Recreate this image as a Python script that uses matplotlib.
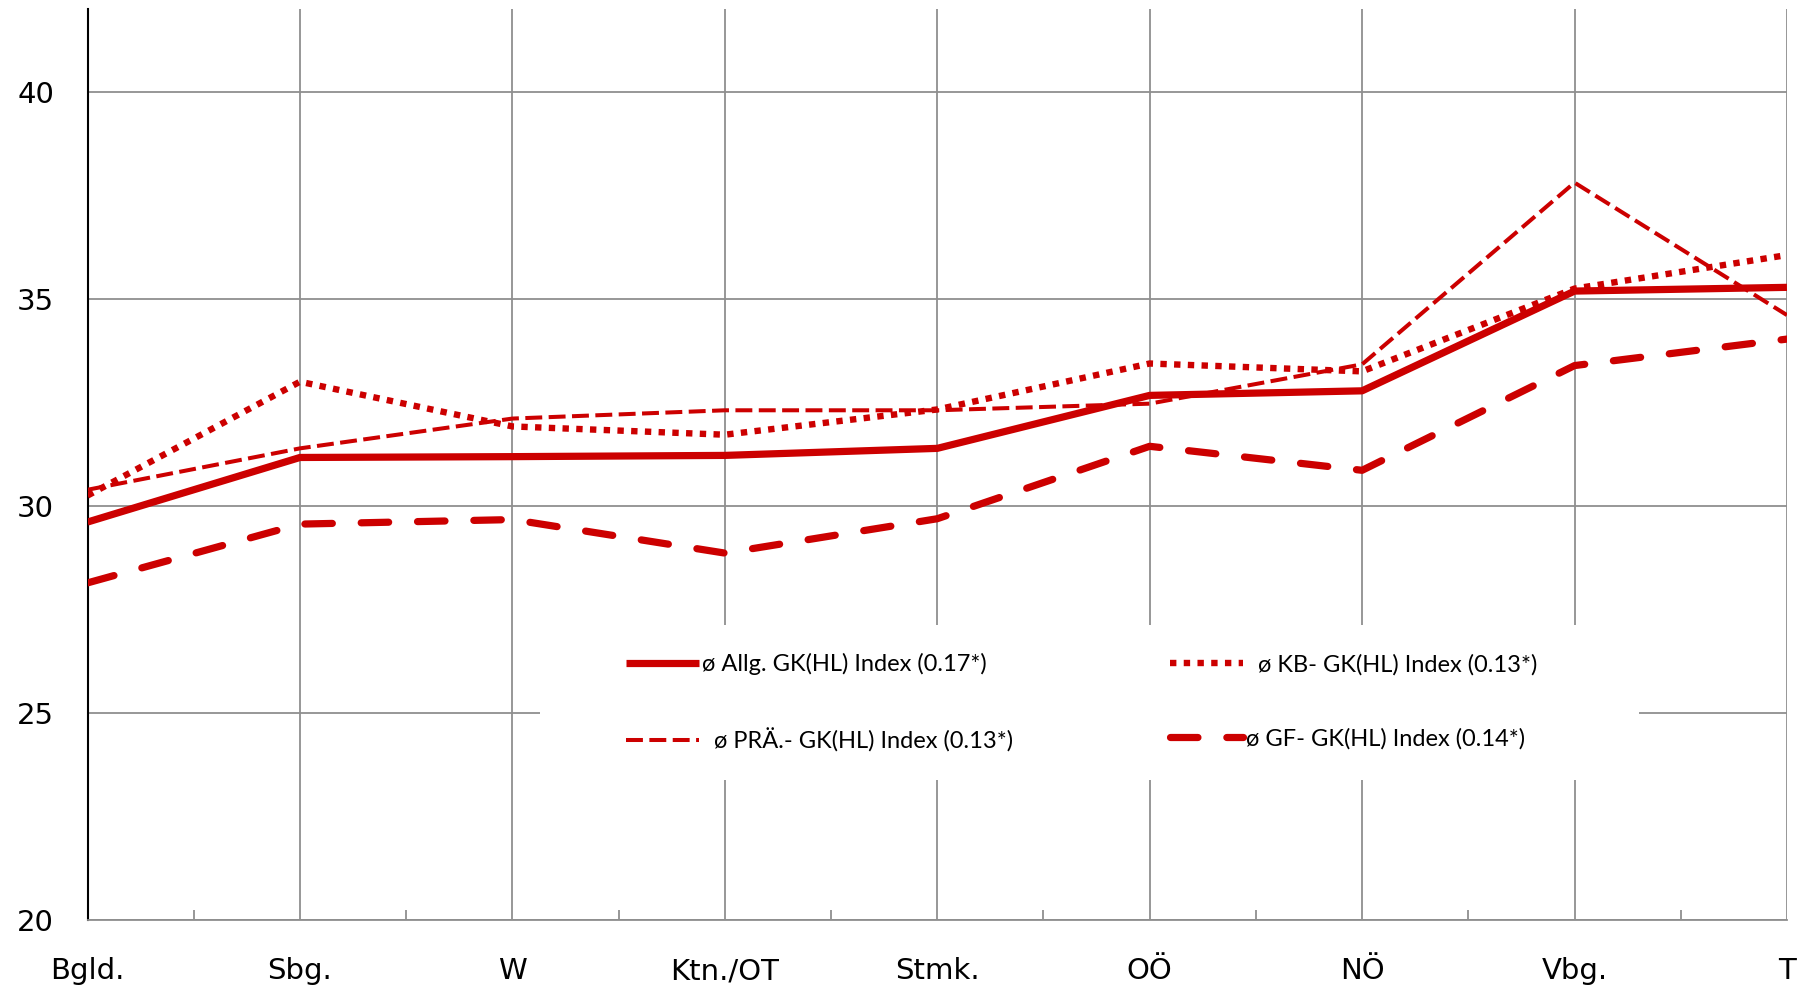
import matplotlib
matplotlib.use("Agg")
import matplotlib.pyplot as plt
from matplotlib.patches import Rectangle

# regions and index values
regions = ["Bgld.", "Sbg.", "W", "Ktn./OT", "Stmk.", "OÖ", "NÖ", "Vbg.", "T"]
allg = [29.61, 31.17, 31.19, 31.22, 31.39, 32.67, 32.78, 35.19, 35.28]
kb = [30.25, 33.00, 31.92, 31.72, 32.33, 33.44, 33.25, 35.25, 36.06]
prae = [30.39, 31.39, 32.11, 32.31, 32.31, 32.47, 33.42, 37.81, 34.61]
gf = [28.14, 29.56, 29.67, 28.86, 29.69, 31.44, 30.86, 33.39, 34.03]

labels = ["ø Allg. GK(HL) Index (0.17*)",
          "  ø PRÄ.- GK(HL) Index (0.13*)",
          "  ø KB- GK(HL) Index (0.13*)",
          "ø GF- GK(HL) Index (0.14*)"]

red = "#cc0000"
grey = "#8f8f8f"

fig = plt.figure(figsize=(18.05, 9.88), dpi=100)
ax = fig.add_axes([0.0485, 0.069, 0.9415, 0.9217])

x = list(range(len(regions)))
l1, = ax.plot(x, allg, color=red, lw=5.2, solid_capstyle="butt", zorder=4)
l2, = ax.plot(x, prae, color=red, lw=2.9, linestyle=(0, (4.2, 1.6)),
              dash_capstyle="butt", zorder=4)
l3, = ax.plot(x, kb, color=red, lw=4.6, linestyle=(0, (1.0, 1.15)),
              dash_capstyle="butt", zorder=4)
l4, = ax.plot(x, gf, color=red, lw=5.2, linestyle=(0, (3.8, 4.0)),
              dash_capstyle="round", zorder=4)

ax.set_xlim(0, 8)
ax.set_ylim(20, 42)
ax.set_yticks([20, 25, 30, 35, 40])
ax.set_xticks(x)
ax.set_xticklabels(regions)
ax.set_xticks([i + 0.5 for i in range(8)], minor=True)

ax.grid(True, which="major", color=grey, lw=1.3)
ax.set_axisbelow(True)
ax.tick_params(axis="both", which="major", length=0, labelsize=21)
ax.tick_params(axis="y", pad=24)
ax.tick_params(axis="x", pad=27)
ax.tick_params(axis="x", which="minor", direction="in", length=7,
               width=1.3, color=grey)

for s in ["top", "right"]:
    ax.spines[s].set_visible(False)
ax.spines["left"].set_color("black")
ax.spines["left"].set_linewidth(1.5)
ax.spines["bottom"].set_color(grey)
ax.spines["bottom"].set_linewidth(1.3)

# white patch behind the legend, hiding the gridlines
ax.add_patch(Rectangle((0.266, 0.154), 0.647, 0.170, transform=ax.transAxes,
                       facecolor="white", edgecolor="none", zorder=3))

ax.legend([l1, l2, l3, l4], labels, ncol=2, frameon=False,
          loc="upper left", bbox_to_anchor=(0.317, 0.293),
          prop={"family": ["Lato", "DejaVu Sans"], "size": 17},
          handlelength=3.1, handletextpad=0.1, labelspacing=2.25,
          columnspacing=6.65, borderpad=0, borderaxespad=0)

fig.savefig("out.png", dpi=100)
